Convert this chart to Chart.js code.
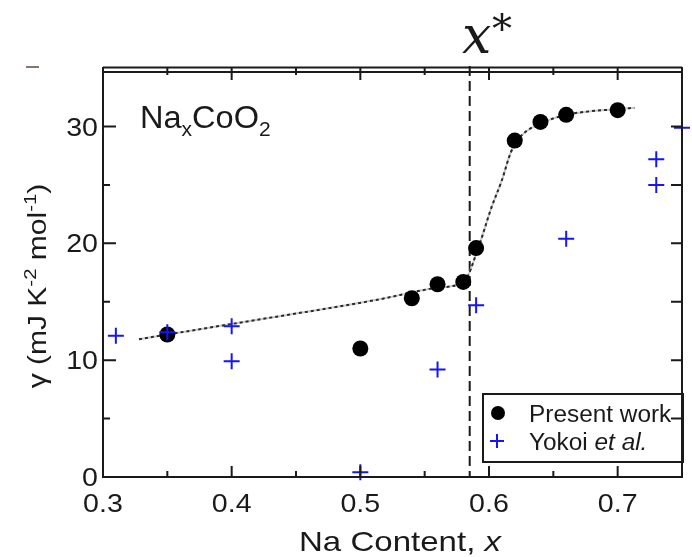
<!DOCTYPE html>
<html>
<head>
<meta charset="utf-8">
<script src="https://cdn.jsdelivr.net/npm/chart.js@4.4.1/dist/chart.umd.min.js"></script>
<style>
  html, body { margin: 0; padding: 0; background: #fff; }
  canvas { display: block; }
</style>
</head>
<body>
<canvas id="gammaChart" width="692" height="557"></canvas>
<script>
// Sommerfeld coefficient vs Na content
const presentX = [0.35, 0.50, 0.54, 0.56, 0.58, 0.59, 0.62, 0.64, 0.66, 0.70];
const presentY = [12.2, 11.0, 15.3, 16.5, 16.7, 19.6, 28.8, 30.4, 31.0, 31.4];

const yokoiX = [0.31, 0.35, 0.40, 0.40, 0.50, 0.56, 0.59, 0.66, 0.73, 0.73, 0.75];
const yokoiY = [12.1, 12.4, 12.9, 9.9, 0.4, 9.2, 14.7, 20.4, 27.2, 25.0, 29.9];

// guide-to-the-eye curve through the present data
const guideX = [0.328, 0.40, 0.512, 0.56, 0.581, 0.591, 0.602, 0.61, 0.617, 0.625, 0.641, 0.66, 0.70, 0.713];
const guideY = [11.8, 13.1, 15.15, 16.2, 16.8, 19.4, 23.1, 25.4, 27.8, 29.2, 30.3, 31.0, 31.5, 31.6];

const xStar = 0.585;

const xTicks = [0.3, 0.4, 0.5, 0.6, 0.7];
const xTickLabels = ['0.3', '0.4', '0.5', '0.6', '0.7'];
const xMinorTicks = [0.35, 0.45, 0.55, 0.65];
const yTicks = [0, 10, 20, 30];
const yTickLabels = ['0', '10', '20', '30'];
const yMinorTicks = [5, 15, 25];

const seriesNames = ['Present work', 'Yokoi '];

function pts(xs, ys) {
    return xs.map((x, i) => ({ x: x, y: ys[i] }));
}

const SANS = '"Liberation Sans", Arial, sans-serif';
const INK = '#1a1a1a';
const DOT = '#000';
const BLUE = '#1515f5';

// draws a run of text pieces: [text, size, dy, italic]
function drawRich(ctx, parts, x, y, sx) {
    ctx.save();
    ctx.translate(x, y);
    ctx.scale(sx, 1);
    let cx = 0;
    parts.forEach(p => {
        ctx.font = (p[3] ? 'italic ' : '') + p[1] + 'px ' + SANS;
        ctx.fillText(p[0], cx, p[2]);
        cx += ctx.measureText(p[0]).width;
    });
    ctx.restore();
}

function richWidth(ctx, parts, sx) {
    let w = 0;
    parts.forEach(p => {
        ctx.font = (p[3] ? 'italic ' : '') + p[1] + 'px ' + SANS;
        w += ctx.measureText(p[0]).width;
    });
    return w * sx;
}

const framePlugin = {
    id: 'frame',
    beforeDatasetsDraw(chart) {
        const ctx = chart.ctx;
        const a = chart.chartArea;
        const xs = chart.scales.x;
        ctx.save();
        // x* marker
        const px = xs.getPixelForValue(xStar);
        ctx.strokeStyle = INK;
        ctx.lineWidth = 2;
        ctx.setLineDash([10, 5]);
        ctx.beginPath();
        ctx.moveTo(px, a.top - 6);
        ctx.lineTo(px, a.bottom);
        ctx.stroke();
        ctx.restore();
    },
    afterDatasetsDraw(chart) {
        const ctx = chart.ctx;
        const a = chart.chartArea;
        const xs = chart.scales.x, ys = chart.scales.y;
        ctx.save();
        ctx.strokeStyle = INK;
        ctx.lineWidth = 2;
        ctx.lineCap = 'butt';

        // frame: left, bottom, right, doubled top
        ctx.beginPath();
        ctx.moveTo(a.left, a.top - 5);
        ctx.lineTo(a.left, a.bottom);
        ctx.lineTo(a.right, a.bottom);
        ctx.lineTo(a.right, a.top - 5);
        ctx.moveTo(a.left, a.top);
        ctx.lineTo(a.right, a.top);
        ctx.moveTo(a.left, a.top - 4.5);
        ctx.lineTo(a.right, a.top - 4.5);
        ctx.stroke();

        // inward ticks
        ctx.beginPath();
        const tickX = (v, len) => {
            const p = xs.getPixelForValue(v);
            ctx.moveTo(p, a.bottom);
            ctx.lineTo(p, a.bottom - len);
            ctx.moveTo(p, a.top - 5);
            ctx.lineTo(p, a.top + len - 3);
        };
        xTicks.forEach(v => tickX(v, 11));
        xMinorTicks.forEach(v => tickX(v, 6));
        const tickY = (v, len) => {
            const p = ys.getPixelForValue(v);
            ctx.moveTo(a.left, p);
            ctx.lineTo(a.left + len, p);
            if (v > 0) {
                ctx.moveTo(a.right, p);
                ctx.lineTo(a.right - 11, p);
            }
        };
        yTicks.forEach(v => tickY(v, 13));
        yMinorTicks.forEach(v => tickY(v, 7));
        ctx.stroke();

        // small stray mark at top left
        ctx.strokeStyle = 'rgba(100,85,75,0.8)';
        ctx.beginPath();
        ctx.moveTo(26, 67);
        ctx.lineTo(39, 67);
        ctx.stroke();

        ctx.fillStyle = INK;
        ctx.textBaseline = 'alphabetic';

        // tick labels
        const sx = 1.1;
        xTicks.forEach((v, i) => {
            const w = richWidth(ctx, [[xTickLabels[i], 26, 0]], sx);
            drawRich(ctx, [[xTickLabels[i], 26, 0]], xs.getPixelForValue(v) - w / 2, 512, sx);
        });
        yTicks.forEach((v, i) => {
            const w = richWidth(ctx, [[yTickLabels[i], 26, 0]], sx);
            drawRich(ctx, [[yTickLabels[i], 26, 0]], 98 - w, ys.getPixelForValue(v) + 9, sx);
        });

        // x title
        const xt = [['Na Content, ', 28, 0], ['x', 28, 0, true]];
        const xtw = richWidth(ctx, xt, 1.18);
        drawRich(ctx, xt, 400 - xtw / 2, 551, 1.18);

        // y title, rotated
        const yt = [['\u03b3 (mJ K', 25, 0], ['-2', 17, -10], [' mol', 25, 0], ['-1', 17, -10], [')', 25, 0]];
        const ytw = richWidth(ctx, yt, 1.2);
        ctx.save();
        ctx.translate(46, 286);
        ctx.rotate(-Math.PI / 2);
        drawRich(ctx, yt, -ytw / 2, 0, 1.2);
        ctx.restore();

        // compound label
        drawRich(ctx, [['Na', 31, 0], ['x', 20, 8], ['CoO', 31, 0], ['2', 20, 8]], 140, 128, 1.05);

        // x* above the frame
        ctx.font = 'italic 52px "DejaVu Serif", serif';
        ctx.fillText('x', 462, 53);
        ctx.font = '40px "DejaVu Serif", serif';
        ctx.fillText('*', 492, 42);

        // legend
        ctx.strokeStyle = INK;
        ctx.lineWidth = 2;
        ctx.strokeRect(483, 394, 200, 68);
        ctx.fillStyle = DOT;
        ctx.beginPath();
        ctx.arc(498, 413, 7, 0, Math.PI * 2);
        ctx.fill();
        ctx.strokeStyle = BLUE;
        ctx.beginPath();
        ctx.moveTo(490, 441); ctx.lineTo(504, 441);
        ctx.moveTo(497, 434); ctx.lineTo(497, 448);
        ctx.stroke();
        ctx.fillStyle = INK;
        drawRich(ctx, [[seriesNames[0], 23, 0]], 529, 422, 1.06);
        drawRich(ctx, [[seriesNames[1], 23, 0], ['et al.', 23, 0, true]], 529, 450, 1.06);

        ctx.restore();
    }
};

// lower index is painted on top
new Chart(document.getElementById('gammaChart'), {
    type: 'scatter',
    data: {
        datasets: [
            {
                label: seriesNames[1],
                data: pts(yokoiX, yokoiY),
                pointStyle: 'cross',
                pointRadius: 8,
                borderColor: BLUE,
                backgroundColor: BLUE,
                borderWidth: 2,
                clip: false
            },
            {
                label: seriesNames[0],
                data: pts(presentX, presentY),
                pointStyle: 'circle',
                pointRadius: 8,
                backgroundColor: DOT,
                borderColor: DOT,
                borderWidth: 0
            },
            {
                label: 'guide dots',
                data: pts(guideX, guideY),
                showLine: true,
                cubicInterpolationMode: 'monotone',
                borderColor: '#2a2a2a',
                borderWidth: 2,
                borderDash: [3, 3],
                pointRadius: 0
            },
            {
                label: 'guide',
                data: pts(guideX, guideY),
                showLine: true,
                cubicInterpolationMode: 'monotone',
                borderColor: '#c8c8c8',
                borderWidth: 2,
                pointRadius: 0
            }
        ]
    },
    options: {
        responsive: false,
        animation: false,
        devicePixelRatio: 1,
        layout: { padding: { left: 103, right: 2, top: 72, bottom: 80 } },
        plugins: {
            legend: { display: false },
            tooltip: { enabled: false }
        },
        scales: {
            x: { type: 'linear', min: 0.3, max: 0.75, display: false },
            y: { type: 'linear', min: 0, max: 34.67, display: false }
        }
    },
    plugins: [framePlugin]
});
</script>
</body>
</html>
